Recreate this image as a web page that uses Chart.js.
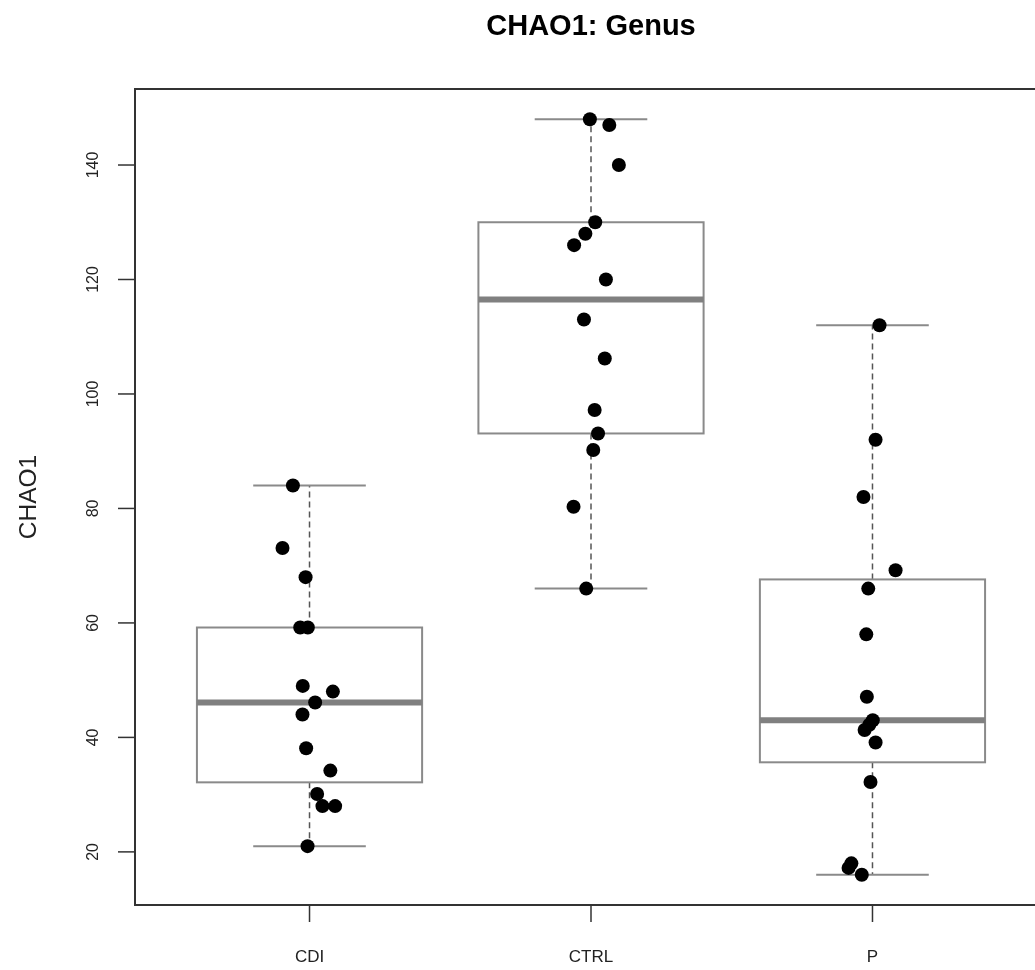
<!DOCTYPE html>
<html>
<head>
<meta charset="utf-8">
<title>CHAO1: Genus</title>
<script src="https://cdn.jsdelivr.net/npm/chart.js@4.4.1/dist/chart.umd.min.js"></script>
<style>
    html, body { margin: 0; padding: 0; background: #fff; overflow: hidden; }
    #wrap { position: relative; width: 1060px; height: 970px; }
</style>
</head>
<body>
<div id="wrap"><canvas id="chartChao1"></canvas></div>
<script>
const grupos = ['CDI', 'CTRL', 'P'];
const yTicks = [20, 40, 60, 80, 100, 120, 140];
const yLimites = [10.72, 153.28];
const xLimites = [0.38, 3.62];

// valores (CHAO1 por amostra)
const valoresCDI = [84, 73.1, 68, 59.2, 59.2, 49, 48, 46.1, 44, 38.1, 34.2, 30.1, 28, 28, 21];
const valoresCTRL = [148, 147, 140, 130, 128, 126, 120, 113, 106.2, 97.2, 93.1, 90.2, 80.3, 66];
const valoresP = [112, 92, 82, 69.2, 66, 58, 47.1, 43, 42.2, 41.3, 39.1, 32.2, 18, 17.2, 16];

// deslocamento horizontal (jitter) de cada ponto
const jitterCDI = [-0.059, -0.096, -0.014, -0.033, -0.006, -0.024, 0.083, 0.020, -0.025, -0.012, 0.074, 0.027, 0.046, 0.091, -0.007];
const jitterCTRL = [-0.004, 0.065, 0.099, 0.015, -0.020, -0.060, 0.053, -0.025, 0.049, 0.013, 0.025, 0.008, -0.062, -0.017];
const jitterP = [0.025, 0.011, -0.032, 0.082, -0.015, -0.022, -0.020, 0.001, -0.011, -0.028, 0.011, -0.007, -0.075, -0.085, -0.038];

const series = [
    { valores: valoresCDI, jitter: jitterCDI },
    { valores: valoresCTRL, jitter: jitterCTRL },
    { valores: valoresP, jitter: jitterP }
];

// resumo de cinco números no estilo do R (fivenum + bigodes 1.5*IQR)
function resumoBox(vals) {
    const x = vals.slice().sort((a, b) => a - b);
    const n = x.length;
    const n4 = Math.floor((n + 3) / 2) / 2;
    const d = [1, n4, (n + 1) / 2, n + 1 - n4, n];
    const f = d.map(i => 0.5 * (x[Math.floor(i) - 1] + x[Math.ceil(i) - 1]));
    const iqr = f[3] - f[1];
    const dentro = x.filter(v => v >= f[1] - 1.5 * iqr && v <= f[3] + 1.5 * iqr);
    return { min: dentro[0], q1: f[1], med: f[2], q3: f[3], max: dentro[dentro.length - 1] };
}

const pontos = [];
series.forEach((s, g) => {
    s.valores.forEach((v, i) => pontos.push({ x: g + 1 + s.jitter[i], y: v }));
});

const FONTE = '"Liberation Sans", Arial, Helvetica, sans-serif';

const boxPlugin = {
    id: 'boxR',
    beforeDatasetsDraw(chart) {
        const ctx = chart.ctx;
        const xs = chart.scales.x, ys = chart.scales.y;
        ctx.save();
        series.forEach((s, g) => {
            const b = resumoBox(s.valores);
            const cx = xs.getPixelForValue(g + 1);
            const x0 = xs.getPixelForValue(g + 1 - 0.4), x1 = xs.getPixelForValue(g + 1 + 0.4);
            const c0 = xs.getPixelForValue(g + 1 - 0.2), c1 = xs.getPixelForValue(g + 1 + 0.2);
            const yq1 = ys.getPixelForValue(b.q1), yq3 = ys.getPixelForValue(b.q3);
            const ymin = ys.getPixelForValue(b.min), ymax = ys.getPixelForValue(b.max);
            const ymed = ys.getPixelForValue(b.med);

            // bigodes tracejados
            ctx.strokeStyle = '#555';
            ctx.lineWidth = 1.5;
            ctx.setLineDash([6, 4]);
            ctx.beginPath();
            ctx.moveTo(cx, yq3); ctx.lineTo(cx, ymax);
            ctx.moveTo(cx, yq1); ctx.lineTo(cx, ymin);
            ctx.stroke();
            ctx.setLineDash([]);

            // extremos
            ctx.strokeStyle = '#8a8a8a';
            ctx.lineWidth = 2;
            ctx.beginPath();
            ctx.moveTo(c0, ymax); ctx.lineTo(c1, ymax);
            ctx.moveTo(c0, ymin); ctx.lineTo(c1, ymin);
            ctx.stroke();

            // caixa
            ctx.strokeRect(x0, yq3, x1 - x0, yq1 - yq3);

            // mediana
            ctx.strokeStyle = '#808080';
            ctx.lineWidth = 6;
            ctx.beginPath();
            ctx.moveTo(x0, ymed); ctx.lineTo(x1, ymed);
            ctx.stroke();
        });
        ctx.restore();
    },
    afterDraw(chart) {
        const ctx = chart.ctx;
        const a = chart.chartArea;
        const xs = chart.scales.x, ys = chart.scales.y;
        ctx.save();
        // moldura
        ctx.strokeStyle = '#333';
        ctx.lineWidth = 2;
        ctx.strokeRect(a.left, a.top, a.right - a.left, a.bottom - a.top);

        // eixo y
        ctx.lineWidth = 1.5;
        ctx.fillStyle = '#222';
        ctx.font = '16px ' + FONTE;
        ctx.textAlign = 'center';
        ctx.textBaseline = 'alphabetic';
        yTicks.forEach(v => {
            const y = ys.getPixelForValue(v);
            ctx.beginPath();
            ctx.moveTo(a.left - 17, y); ctx.lineTo(a.left, y);
            ctx.stroke();
            ctx.save();
            ctx.translate(a.left - 37, y);
            ctx.rotate(-Math.PI / 2);
            ctx.fillText(String(v), 0, 0);
            ctx.restore();
        });

        // eixo x
        ctx.font = '17px ' + FONTE;
        grupos.forEach((g, i) => {
            const x = xs.getPixelForValue(i + 1);
            ctx.beginPath();
            ctx.moveTo(x, a.bottom); ctx.lineTo(x, a.bottom + 17);
            ctx.stroke();
            ctx.fillText(g, x, 962);
        });

        // título do eixo y
        ctx.font = '24.5px ' + FONTE;
        ctx.save();
        ctx.translate(36, (a.top + a.bottom) / 2);
        ctx.rotate(-Math.PI / 2);
        ctx.fillText('CHAO1', 0, 0);
        ctx.restore();

        // título
        ctx.fillStyle = '#000';
        ctx.font = 'bold 29px ' + FONTE;
        ctx.fillText('CHAO1: Genus', (a.left + a.right) / 2, 35);
        ctx.restore();
    }
};

new Chart(document.getElementById('chartChao1'), {
    type: 'scatter',
    data: {
        datasets: [{
            label: 'CHAO1',
            data: pontos,
            backgroundColor: '#000',
            borderWidth: 0,
            pointRadius: 7,
            pointHoverRadius: 7
        }]
    },
    options: {
        responsive: true,
        maintainAspectRatio: false,
        animation: false,
        layout: { padding: { left: 135, top: 89, right: 13, bottom: 65 } },
        plugins: { legend: { display: false }, tooltip: { enabled: false }, title: { display: false } },
        scales: {
            x: { type: 'linear', min: xLimites[0], max: xLimites[1], display: false },
            y: { type: 'linear', min: yLimites[0], max: yLimites[1], display: false }
        }
    },
    plugins: [boxPlugin]
});
</script>
</body>
</html>
